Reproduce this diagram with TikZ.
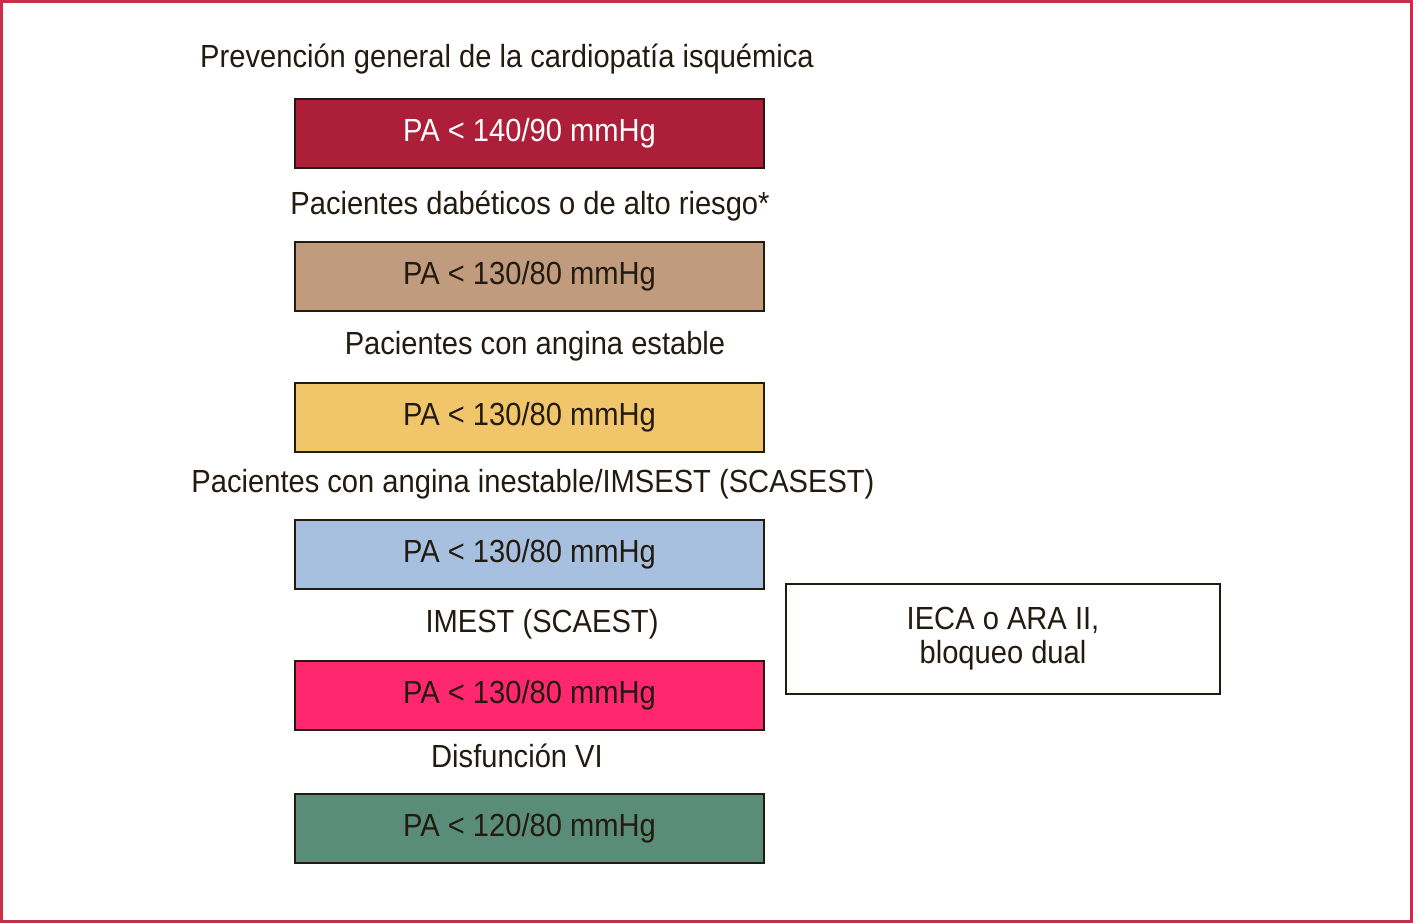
\documentclass[tikz,border=0pt]{standalone}
\usepackage{fontspec}
\setmainfont{Liberation Sans}[FakeStretch=0.91]
\definecolor{frame}{HTML}{C8304A}
\definecolor{ink}{HTML}{231A10}
\definecolor{cA}{HTML}{AD1F38}
\definecolor{cB}{HTML}{C09B7D}
\definecolor{cC}{HTML}{F1C66A}
\definecolor{cD}{HTML}{A8C0E0}
\definecolor{cE}{HTML}{FF2770}
\definecolor{cF}{HTML}{5A8C7A}
\begin{document}
\begin{tikzpicture}[x=0.5pt,y=-0.5pt,
  pabox/.style={draw=ink,line width=1pt,minimum width=234.5pt,minimum height=34.5pt,inner sep=0pt,text=ink,font=\fontsize{16}{18}\selectfont},
  lbl/.style={text=ink,inner sep=0pt,font=\fontsize{16}{18}\selectfont}]
\useasboundingbox (0,0) rectangle (1413,923);
\draw[frame,line width=1.5pt] (1.5,1.5) rectangle (1411.5,921.5);
\node[lbl] (l1) at (507,59) {Prevención general de la cardiopatía isquémica};
\node[pabox,fill=cA,text=white] (b1) at (529.5,133.5) {PA < 140/90 mmHg};
\node[lbl] (l2) at (530,206) {Pacientes dabéticos o de alto riesgo*};
\node[pabox,fill=cB] (b2) at (529.5,276.5) {PA < 130/80 mmHg};
\node[lbl] (l3) at (535,346) {Pacientes con angina estable};
\node[pabox,fill=cC] (b3) at (529.5,417) {PA < 130/80 mmHg};
\node[lbl] (l4) at (533,484) {Pacientes con angina inestable/IMSEST (SCASEST)};
\node[pabox,fill=cD] (b4) at (529.5,554) {PA < 130/80 mmHg};
\node[lbl] (l5) at (542,624) {IMEST (SCAEST)};
\node[pabox,fill=cE] (b5) at (529.5,695) {PA < 130/80 mmHg};
\node[lbl] (l6) at (517,756) {Disfunción VI};
\node[pabox,fill=cF] (b6) at (529.5,828) {PA < 120/80 mmHg};
\node[draw=ink,line width=1pt,minimum width=217pt,minimum height=55pt,inner sep=0pt,text=ink,align=center,font=\fontsize{16}{17}\selectfont] (r) at (1003,639) {IECA o ARA II,\\bloqueo dual};
\end{tikzpicture}
\end{document}
